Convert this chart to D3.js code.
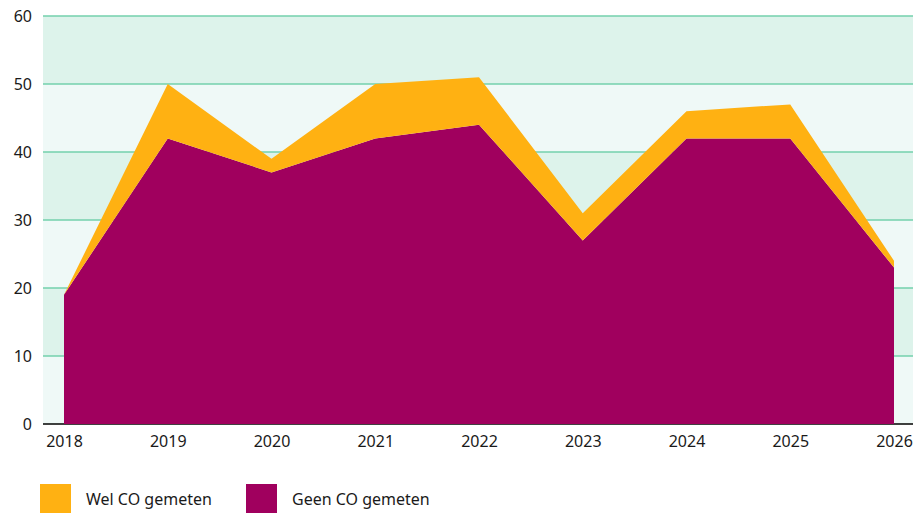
<!DOCTYPE html>
<html>
<head>
<meta charset="utf-8">
<script src="https://cdn.jsdelivr.net/npm/d3@7"></script>
<style>
  body { margin: 0; background: #fff; }
  svg { display: block; font-family: "Noto Sans", "Open Sans", sans-serif; }
</style>
</head>
<body>
<svg id="chart" width="923" height="513"></svg>
<script>
// data
const years = [2018, 2019, 2020, 2021, 2022, 2023, 2024, 2025, 2026];
const geenCO = [19, 42, 37, 42, 44, 27, 42, 42, 23];
const welCO = [0, 8, 2, 8, 7, 4, 4, 5, 1];
const yTicks = [0, 10, 20, 30, 40, 50, 60];
const seriesNames = ["Wel CO gemeten", "Geen CO gemeten"];
const seriesColors = ["#ffb112", "#a0005e"];

const svg = d3.select("#chart");
const plotLeft = 43, plotRight = 913, plotTop = 16, plotBottom = 424;

const x = d3.scaleLinear().domain([2018, 2026]).range([64, 894]);
const y = d3.scaleLinear().domain([0, 60]).range([plotBottom, plotTop]);

// alternating background bands
const bands = d3.range(0, 60, 10);
svg.append("g").selectAll("rect")
  .data(bands)
  .enter().append("rect")
  .attr("x", plotLeft)
  .attr("width", plotRight - plotLeft)
  .attr("y", d => y(d + 10))
  .attr("height", d => y(d) - y(d + 10))
  .attr("fill", d => (d / 10) % 2 === 1 ? "#ddf3eb" : "#eff9f7");

// gridlines
svg.append("g").selectAll("line")
  .data(yTicks.filter(d => d > 0))
  .enter().append("line")
  .attr("x1", plotLeft).attr("x2", plotRight)
  .attr("y1", d => y(d)).attr("y2", d => y(d))
  .attr("stroke", "#73d1ad")
  .attr("stroke-width", 1.5);

svg.append("line")
  .attr("x1", plotLeft).attr("x2", plotRight)
  .attr("y1", plotBottom).attr("y2", plotBottom)
  .attr("stroke", "#000")
  .attr("stroke-width", 1.5);

// stacked areas
const rows = years.map((yr, i) => ({ year: yr, geen: geenCO[i], wel: welCO[i] }));
const stack = d3.stack().keys(["geen", "wel"]);
const layers = stack(rows);
const area = d3.area()
  .x(d => x(d.data.year))
  .y0(d => y(d[0]))
  .y1(d => y(d[1]));

const layerColor = { geen: seriesColors[1], wel: seriesColors[0] };
svg.append("g").selectAll("path")
  .data(layers)
  .enter().append("path")
  .attr("d", area)
  .attr("fill", d => layerColor[d.key]);

// y axis labels
const yAxis = d3.axisLeft(y).tickValues(yTicks).tickSize(0).tickPadding(11);
const gy = svg.append("g").attr("transform", `translate(${plotLeft},0)`).call(yAxis);
gy.select(".domain").remove();
gy.selectAll("text").attr("font-size", 16).attr("fill", "#1a1a1a")
  .attr("font-family", "Noto Sans, Open Sans, sans-serif");

// x axis labels
const xAxis = d3.axisBottom(x).tickValues(years).tickFormat(d3.format("d")).tickSize(0).tickPadding(12);
const gx = svg.append("g").attr("transform", `translate(0,${plotBottom})`).call(xAxis);
gx.select(".domain").remove();
gx.selectAll("text").attr("font-size", 16).attr("fill", "#1a1a1a")
  .attr("font-family", "Noto Sans, Open Sans, sans-serif");

// legend
const legendX = [40, 246];
const lg = svg.append("g").selectAll("g")
  .data(seriesNames)
  .enter().append("g")
  .attr("transform", (d, i) => `translate(${legendX[i]},484)`);
lg.append("rect").attr("width", 31).attr("height", 30)
  .attr("fill", (d, i) => seriesColors[i]);
lg.append("text").attr("x", 46).attr("y", 21)
  .attr("font-size", 16).attr("fill", "#1a1a1a")
  .text(d => d);
</script>
</body>
</html>
